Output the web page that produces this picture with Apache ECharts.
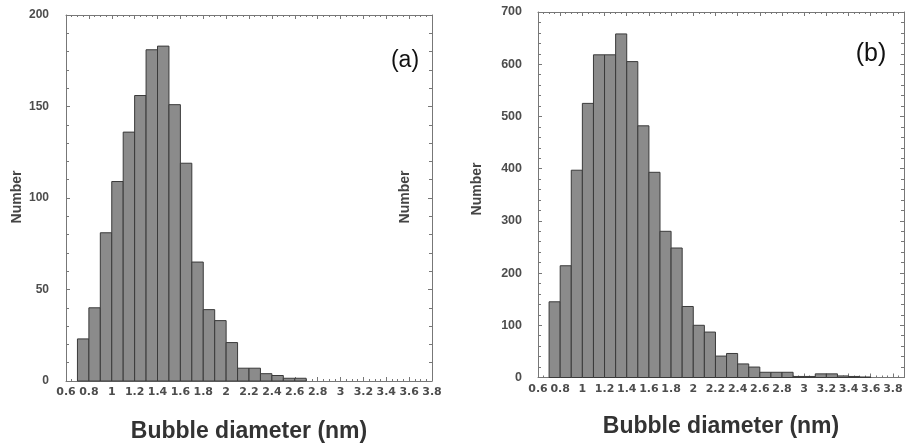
<!DOCTYPE html>
<html>
<head>
<meta charset="utf-8">
<script src="https://cdn.jsdelivr.net/npm/echarts@6/dist/echarts.min.js"></script>
<style>html,body{margin:0;padding:0;background:#fff}#c{width:906px;height:448px}</style>
</head>
<body>
<div id="c"></div>
<script>
// ---- Data ----
const BIN_WIDTH = 0.1;
const binStartsA = [0.7,0.8,0.9,1.0,1.1,1.2,1.3,1.4,1.5,1.6,1.7,1.8,1.9,2.0,2.1,2.2,2.3,2.4,2.5,2.6];
const countsA    = [23,40,81,109,136,156,181,183,151,119,65,39,33,21,7,7,4,3,1.5,1.5];
const binStartsB = [0.7,0.8,0.9,1.0,1.1,1.2,1.3,1.4,1.5,1.6,1.7,1.8,1.9,2.0,2.1,2.2,2.3,2.4,2.5,2.6,2.7,2.8,2.9,3.0,3.1,3.2,3.3,3.4,3.5];
const countsB    = [145,214,397,525,618,618,658,605,482,393,280,248,136,100,87,41,46,26,20,10,10,10,2,2,7,7,3,2,1];
const xTitle = 'Bubble diameter (nm)';
const yTitle = 'Number';
const panelA = '(a)';
const panelB = '(b)';

const chart = echarts.init(document.getElementById('c'), null, {renderer:'canvas'});
const FONT = '"Liberation Sans", Arial, sans-serif';
const XFONT = '"DejaVu Sans", "Liberation Sans", sans-serif';
const AX = '#777';

function renderBar(params, api) {
  const x0 = api.value(0), x1 = api.value(1), v = api.value(2);
  const p0 = api.coord([x0, v]);
  const p1 = api.coord([x1, 0]);
  return {
    type: 'rect',
    shape: {x: p0[0], y: p0[1], width: p1[0] - p0[0], height: p1[1] - p0[1]},
    style: {fill: '#8b8b8b', stroke: '#3a3a3a', lineWidth: 1}
  };
}
function makeData(starts, counts) {
  return starts.map((s, i) => [s, s + BIN_WIDTH, counts[i]]);
}
function xLabelFmt(v) {
  if (Math.abs(v * 5 - Math.round(v * 5)) > 1e-6) return '';
  return String(parseFloat(v.toFixed(1)));
}
function xAxes(grid, max) {
  const common = {
    type: 'value', gridIndex: grid, min: 0.6, max: max, interval: 0.2,
    axisLine: {show: true, onZero: false, lineStyle: {color: AX, width: 1}},
    axisTick: {show: true, inside: true, length: 4, lineStyle: {color: AX}},
    minorTick: {show: true, splitNumber: 4, length: 2, lineStyle: {color: AX}},
    splitLine: {show: false}
  };
  return [
    Object.assign({}, common, {position: 'bottom',
      axisLabel: {show: true, margin: 6, color: '#4d4d4d', fontSize: 11, fontWeight: 'bold', fontFamily: XFONT,
        formatter: xLabelFmt, showMaxLabel: max < 3.85, hideOverlap: false}}),
    Object.assign({}, common, {position: 'top', axisLabel: {show: false}})
  ];
}
function yAxes(grid, max, interval, minorSplit, margin, fs) {
  const common = {
    type: 'value', gridIndex: grid, min: 0, max: max, interval: interval,
    axisLine: {show: true, lineStyle: {color: AX, width: 1}},
    axisTick: {show: true, inside: true, length: 4, lineStyle: {color: AX}},
    minorTick: {show: true, splitNumber: minorSplit, length: 3, lineStyle: {color: AX}},
    splitLine: {show: false}
  };
  return [
    Object.assign({}, common, {position: 'left',
      axisLabel: {show: true, margin: margin, color: '#4d4d4d', fontSize: fs, fontWeight: 'bold', fontFamily: FONT}}),
    Object.assign({}, common, {position: 'right', axisLabel: {show: false}})
  ];
}

const option = {
  animation: false,
  backgroundColor: '#fff',
  grid: [
    {left: 66, top: 15, width: 366, height: 366},
    {left: 538, top: 12, width: 366, height: 365.5}
  ],
  xAxis: [...xAxes(0, 3.8), ...xAxes(1, 3.9)],
  yAxis: [...yAxes(0, 200, 50, 5, 17, 12), ...yAxes(1, 700, 100, 5, 16, 12.5)],
  series: [
    {type: 'custom', xAxisIndex: 0, yAxisIndex: 0, renderItem: renderBar, data: makeData(binStartsA, countsA)},
    {type: 'custom', xAxisIndex: 2, yAxisIndex: 2, renderItem: renderBar, data: makeData(binStartsB, countsB)}
  ],
  graphic: [
    {type: 'text', x: 249, y: 432, style: {text: xTitle, font: 'bold 23px ' + FONT, fill: '#333', align: 'center', verticalAlign: 'middle'}},
    {type: 'text', x: 721, y: 427, style: {text: xTitle, font: 'bold 23px ' + FONT, fill: '#333', align: 'center', verticalAlign: 'middle'}},
    {type: 'text', x: 17, y: 197, rotation: Math.PI / 2, style: {text: yTitle, font: 'bold 14px ' + FONT, fill: '#444', align: 'center', verticalAlign: 'middle'}},
    {type: 'text', x: 405, y: 197, rotation: Math.PI / 2, style: {text: yTitle, font: 'bold 14px ' + FONT, fill: '#444', align: 'center', verticalAlign: 'middle'}},
    {type: 'text', x: 477, y: 189, rotation: Math.PI / 2, style: {text: yTitle, font: 'bold 14px ' + FONT, fill: '#444', align: 'center', verticalAlign: 'middle'}},
    {type: 'text', x: 405, y: 61, style: {text: panelA, font: '23px "Liberation Sans Narrow", "Liberation Sans", sans-serif', fill: '#111', align: 'center', verticalAlign: 'middle'}},
    {type: 'text', x: 871, y: 54, style: {text: panelB, font: '25px "Liberation Sans Narrow", "Liberation Sans", sans-serif', fill: '#111', align: 'center', verticalAlign: 'middle'}}
  ]
};
chart.setOption(option);
</script>
</body>
</html>
